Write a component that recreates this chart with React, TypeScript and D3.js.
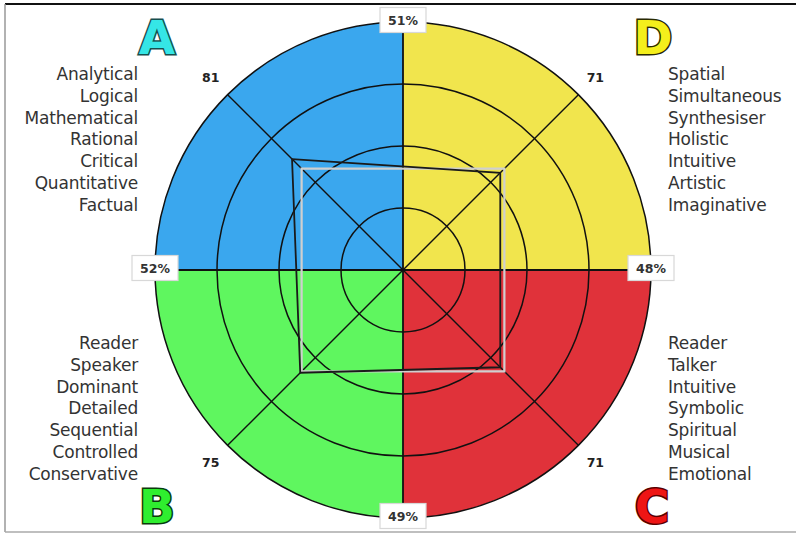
import React from "react";
import * as d3 from "d3";

// quadrants clockwise from top-left: A (upper left), D (upper right), C (lower right), B (lower left)
const quadrants = ["A", "D", "C", "B"];
const quadrantColors = ["#3aa7ee", "#f1e54d", "#e0323a", "#5ff65f"];
const letterFill = ["#35e6e6", "#f4ef1c", "#ee1515", "#2fee2f"];
const letterStroke = ["#164f4f", "#2a2a00", "#5a0000", "#0b3b0b"];
const scores = [81, 71, 71, 75];
const average = [74, 74, 74, 74];
const ringValues = [32, 64, 96, 128];

// dominance percentages on the axes: top, right, bottom, left
const axisPercents = ["51%", "48%", "49%", "52%"];

const wordsA = ["Analytical", "Logical", "Mathematical", "Rational", "Critical", "Quantitative", "Factual"];
const wordsD = ["Spatial", "Simultaneous", "Synthesiser", "Holistic", "Intuitive", "Artistic", "Imaginative"];
const wordsC = ["Reader", "Talker", "Intuitive", "Symbolic", "Spiritual", "Musical", "Emotional"];
const wordsB = ["Reader", "Speaker", "Dominant", "Detailed", "Sequential", "Controlled", "Conservative"];

const W = 796;
const H = 535;
const cx = 403;
const cy = 270;
const R = 248;

export default function App() {
  const r = d3.scaleLinear().domain([0, 128]).range([0, R]);
  const arc = d3.arc<any>();
  const quadAngle = d3.scaleLinear().domain([0, 4]).range([-Math.PI / 2, (3 * Math.PI) / 2]);
  const cornerAngle = (i: number) => quadAngle(i) + Math.PI / 4;

  const radial = d3
    .lineRadial<number>()
    .angle((_, i) => cornerAngle(i))
    .radius((d) => r(d))
    .curve(d3.curveLinearClosed);

  const pt = (a: number, rad: number) => [rad * Math.sin(a), -rad * Math.cos(a)];

  const font = "'DejaVu Sans', sans-serif";
  const lineH = 21.8;

  const wordBlock = (words: string[], x: number, y0: number, anchor: string) =>
    words.map((w, i) => (
      <text key={w + i} x={x} y={y0 + i * lineH} textAnchor={anchor} dominantBaseline="central"
        fontFamily={font} fontSize={17} fill="#333" letterSpacing={-0.2}>
        {w}
      </text>
    ));

  const letterPos = [
    [157, 37],
    [653, 37],
    [652, 506],
    [157, 506],
  ];

  return (
    <svg width={W} height={H} style={{ position: "absolute", left: 0, top: 0, background: "#fff" }}>
      {/* frame */}
      <line x1={5} y1={4} x2={W} y2={4} stroke="#111" strokeWidth={2} />
      <line x1={5} y1={4} x2={5} y2={532} stroke="#999" strokeWidth={1.5} />
      <line x1={5} y1={532} x2={W} y2={532} stroke="#aaa" strokeWidth={1.5} />

      <g transform={`translate(${cx},${cy})`}>
        {quadrants.map((q, i) => (
          <path key={q}
            d={arc({ innerRadius: 0, outerRadius: R, startAngle: quadAngle(i), endAngle: quadAngle(i + 1) }) as string}
            fill={quadrantColors[i]} />
        ))}
        {ringValues.map((v) => (
          <circle key={v} r={r(v)} fill="none" stroke="#111" strokeWidth={1.5} />
        ))}
        {/* axes */}
        <line x1={0} y1={-R} x2={0} y2={R} stroke="#111" strokeWidth={1.8} />
        <line x1={-R} y1={0} x2={R} y2={0} stroke="#111" strokeWidth={1.8} />
        {quadrants.map((q, i) => {
          const [x, y] = pt(cornerAngle(i), R);
          return <line key={q} x1={0} y1={0} x2={x} y2={y} stroke="#111" strokeWidth={1.4} />;
        })}
        {/* average profile and personal profile */}
        <path d={radial(average) as string} fill="none" stroke="#cfcfcf" strokeWidth={2.2} />
        <path d={radial(scores) as string} fill="none" stroke="#1a1a1a" strokeWidth={1.8} />

        {/* score labels on the diagonals */}
        {scores.map((s, i) => {
          const [x, y] = pt(cornerAngle(i), 272);
          return (
            <text key={i} x={x} y={y} textAnchor="middle" dominantBaseline="central"
              fontFamily={font} fontWeight="bold" fontSize={12.5} fill="#222">
              {s}
            </text>
          );
        })}

        {/* percentage boxes on the axes */}
        {axisPercents.map((p, i) => {
          const [x, y] = pt(quadAngle(i) + Math.PI / 2, R);
          return (
            <g key={i} transform={`translate(${x},${y - 2})`}>
              <rect x={-23} y={-12.5} width={46} height={25} fill="#fff" stroke="#d8d8d8" strokeWidth={1.2} />
              <text textAnchor="middle" dominantBaseline="central" fontFamily={font} fontWeight="bold"
                fontSize={12.5} fill="#333">
                {p}
              </text>
            </g>
          );
        })}
      </g>

      {wordBlock(wordsA, 138, 74, "end")}
      {wordBlock(wordsD, 668, 74, "start")}
      {wordBlock(wordsB, 138, 343, "end")}
      {wordBlock(wordsC, 668, 343, "start")}

      {quadrants.map((q, i) => (
        <text key={q} x={letterPos[i][0]} y={letterPos[i][1]} textAnchor="middle" dominantBaseline="central"
          fontFamily={font} fontWeight="bold" fontSize={47} fill={letterFill[i]} stroke={letterStroke[i]}
          strokeWidth={3} style={{ paintOrder: "stroke" }}>
          {q}
        </text>
      ))}
    </svg>
  );
}
